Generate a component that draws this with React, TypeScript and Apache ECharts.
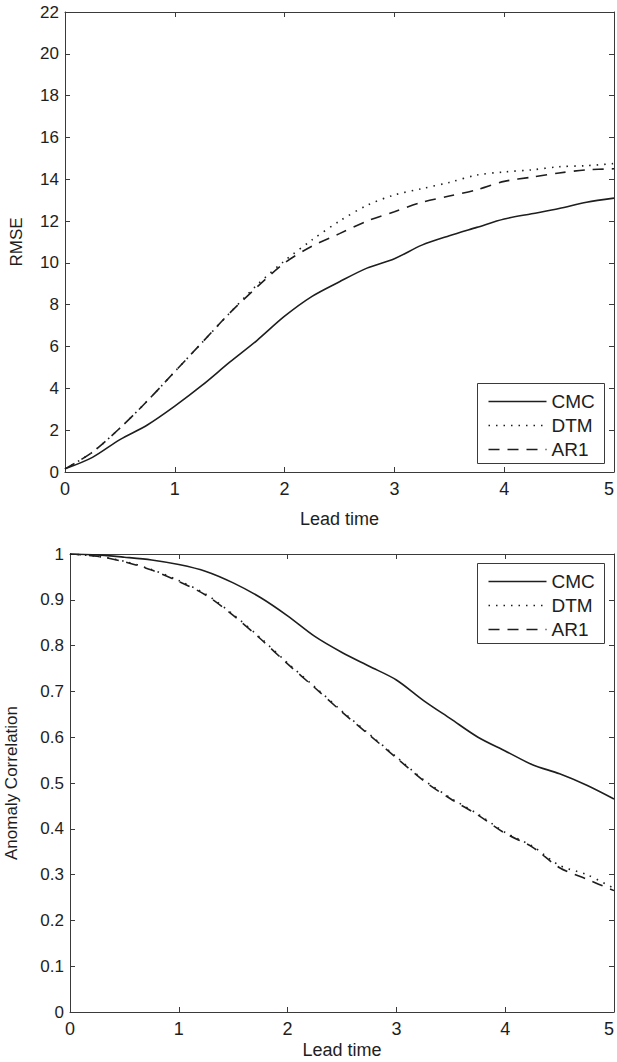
import React, { useEffect, useRef } from "react";
import * as echarts from "echarts";

const LEAD = [0, 0.25, 0.5, 0.75, 1, 1.25, 1.5, 1.75, 2, 2.25, 2.5, 2.75, 3, 3.25, 3.5, 3.75, 4, 4.25, 4.5, 4.75, 5];

const RMSE_CMC = [0.15, 0.7, 1.55, 2.25, 3.15, 4.15, 5.25, 6.3, 7.45, 8.4, 9.1, 9.75, 10.2, 10.85, 11.3, 11.7, 12.1, 12.35, 12.6, 12.9, 13.1];
const RMSE_DTM = [0.15, 0.95, 2.1, 3.4, 4.8, 6.2, 7.6, 8.95, 10.1, 11.1, 12.0, 12.75, 13.25, 13.55, 13.85, 14.2, 14.35, 14.45, 14.6, 14.65, 14.75];
const RMSE_AR1 = [0.15, 0.95, 2.1, 3.4, 4.8, 6.2, 7.6, 8.85, 10.0, 10.8, 11.4, 12.0, 12.45, 12.9, 13.2, 13.5, 13.9, 14.1, 14.3, 14.45, 14.5];

const AC_CMC = [1.0, 0.998, 0.993, 0.987, 0.977, 0.962, 0.937, 0.905, 0.865, 0.82, 0.785, 0.755, 0.725, 0.68, 0.64, 0.6, 0.57, 0.54, 0.52, 0.495, 0.465];
const AC_DTM = [1.0, 0.995, 0.984, 0.966, 0.942, 0.912, 0.868, 0.817, 0.762, 0.71, 0.657, 0.607, 0.557, 0.507, 0.467, 0.432, 0.392, 0.362, 0.32, 0.3, 0.27];
const AC_AR1 = [1.0, 0.995, 0.983, 0.965, 0.94, 0.91, 0.866, 0.815, 0.76, 0.708, 0.655, 0.605, 0.555, 0.505, 0.465, 0.43, 0.39, 0.36, 0.315, 0.29, 0.265];

const SERIES_NAMES = ["CMC", "DTM", "AR1"];

const FONT = "Liberation Sans, Arial, Helvetica, sans-serif";
const INK = "#1e1e1e";
const AXIS = "#3a3a3a";
const DASHES: any[] = ["solid", [1.5, 6], [11, 8]];

function pairs(ys: number[]) {
  return LEAD.map((x, i) => [x, ys[i]]);
}

function xAxes(grid: number, gap: number) {
  const base = {
    gridIndex: grid,
    type: "value",
    min: 0,
    max: 5,
    interval: 1,
    splitLine: { show: false },
    axisLine: { show: true, onZero: false, lineStyle: { color: AXIS, width: 1 } },
    axisTick: { show: true, inside: true, length: 5, lineStyle: { color: AXIS } },
  };
  return [
    {
      ...base,
      position: "bottom",
      axisLabel: { show: true, color: INK, fontSize: 18, fontFamily: FONT, margin: 8, alignMaxLabel: "right" },
      name: "Lead time",
      nameLocation: "middle",
      nameGap: gap,
      nameTextStyle: { color: INK, fontSize: 18, fontFamily: FONT },
    },
    { ...base, position: "top", axisLabel: { show: false } },
  ];
}

function yAxes(grid: number, max: number, interval: number, name: string, gap: number) {
  const base = {
    gridIndex: grid,
    type: "value",
    min: 0,
    max,
    interval,
    splitLine: { show: false },
    axisLine: { show: true, onZero: false, lineStyle: { color: AXIS, width: 1 } },
    axisTick: { show: true, inside: true, length: 5, lineStyle: { color: AXIS } },
  };
  return [
    {
      ...base,
      position: "left",
      axisLabel: { show: true, color: INK, fontSize: 17, fontFamily: FONT, margin: 6 },
      name,
      nameLocation: "middle",
      nameGap: gap,
      nameTextStyle: { color: INK, fontSize: 17, fontFamily: FONT },
    },
    { ...base, position: "right", axisLabel: { show: false } },
  ];
}

function legendBox(left: number, top: number) {
  const children: any[] = [
    {
      type: "rect",
      shape: { x: 0, y: 0, width: 127, height: 80 },
      style: { fill: "#ffffff", stroke: AXIS, lineWidth: 1 },
    },
  ];
  SERIES_NAMES.forEach((n, i) => {
    const cy = 18 + i * 24;
    children.push({
      type: "line",
      shape: { x1: 11, y1: cy, x2: 69, y2: cy },
      style: { stroke: INK, lineWidth: 1.6, lineDash: DASHES[i] === "solid" ? null : DASHES[i] },
    });
    children.push({
      type: "text",
      x: 74,
      y: cy,
      style: { text: n, fill: INK, fontSize: 19, fontFamily: FONT, textVerticalAlign: "middle", textAlign: "left" },
    });
  });
  return { type: "group", left, top, children };
}

export default function App() {
  const ref = useRef<HTMLDivElement>(null);
  useEffect(() => {
    if (!ref.current) return;
    const chart = echarts.init(ref.current, undefined, { renderer: "svg" });
    const top = [RMSE_CMC, RMSE_DTM, RMSE_AR1];
    const bot = [AC_CMC, AC_DTM, AC_AR1];
    const series: any[] = [];
    top.forEach((ys, i) =>
      series.push({
        type: "line",
        name: SERIES_NAMES[i],
        xAxisIndex: 0,
        yAxisIndex: 0,
        data: pairs(ys),
        showSymbol: false,
        smooth: 0.3,
        lineStyle: { color: INK, width: 1.6, type: DASHES[i] },
      })
    );
    bot.forEach((ys, i) =>
      series.push({
        type: "line",
        name: SERIES_NAMES[i],
        xAxisIndex: 2,
        yAxisIndex: 2,
        data: pairs(ys),
        showSymbol: false,
        smooth: 0.3,
        lineStyle: { color: INK, width: 1.6, type: DASHES[i] },
      })
    );
    chart.setOption({
      animation: false,
      backgroundColor: "#ffffff",
      grid: [
        { left: 65, top: 12, width: 549, height: 460, outerBoundsMode: "none", containLabel: false },
        { left: 70, top: 554, width: 544, height: 458, outerBoundsMode: "none", containLabel: false },
      ],
      xAxis: [...xAxes(0, 38), ...xAxes(1, 29)],
      yAxis: [...yAxes(0, 22, 2, "RMSE", 40), ...yAxes(1, 1, 0.1, "Anomaly Correlation", 50)],
      series,
      graphic: [legendBox(477, 383), legendBox(477, 563)],
    });
    return () => chart.dispose();
  }, []);
  return (
    <div
      ref={ref}
      style={{ position: "fixed", left: 0, top: 0, width: 617, height: 1062, background: "#fff" }}
    />
  );
}
